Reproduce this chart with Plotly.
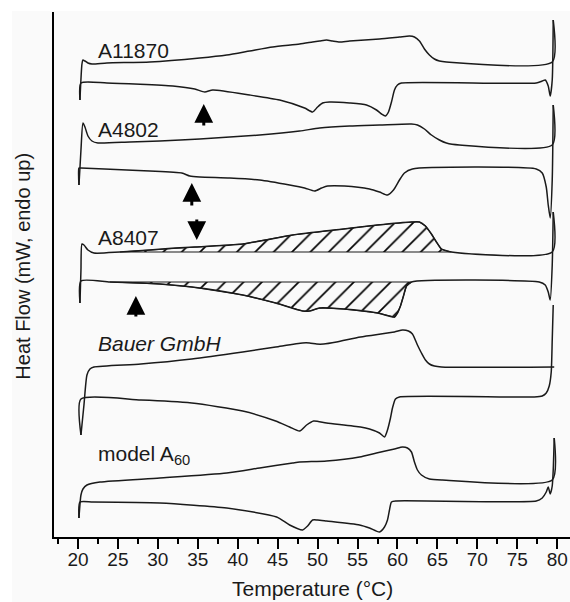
import plotly.graph_objects as go

# ---------------- data (Temperature in °C, heat flow in arbitrary offset units) ----------------
A11870_HEAT_T = [20.25, 20.5, 20.625, 20.875, 21.25, 21.75, 23.625, 29.0, 35.25, 38.625, 41.5, 44.375, 47.75, 49.375,
                 50.25, 51.125, 51.875, 52.75, 54.0, 57.75, 60.25, 61.5, 62.125, 62.75, 63.375, 64.0, 64.625, 65.25,
                 66.125, 79.375, 79.5]
A11870_HEAT_Q = [43.7, 47.3, 47.7, 47.6, 47.4, 47.3, 47.4, 47.5, 47.9, 48.2, 48.6, 49.0, 49.3, 49.5,
                 49.6, 49.7, 49.6, 49.5, 49.6, 49.8, 50.0, 50.1, 50.0, 49.6, 48.8, 48.2, 47.8, 47.6,
                 47.5, 47.5, 51.7]
A11870_COOL_T = [79.5, 79.375, 79.125, 78.875, 78.5, 78.125, 77.375, 60.5, 60.0, 59.625, 59.25, 58.875, 58.5, 58.0,
                 57.375, 56.125, 54.0, 51.5, 50.625, 50.0, 49.375, 48.375, 45.25, 41.5, 36.875, 35.875, 34.625,
                 31.875, 23.625, 20.375, 20.25]
A11870_COOL_Q = [51.7, 45.7, 44.1, 45.1, 45.7, 45.6, 45.4, 45.4, 45.2, 44.7, 43.5, 42.5, 42.1, 42.3,
                 42.7, 43.2, 43.4, 43.5, 43.4, 43.0, 42.5, 42.9, 43.7, 44.2, 44.7, 44.5, 44.8,
                 45.1, 45.4, 45.4, 43.7]

A4802_HEAT_T = [20.125, 20.375, 20.625, 20.875, 21.25, 21.75, 22.5, 26.5, 30.25, 35.25, 42.75, 47.75, 50.25, 54.0,
                57.75, 61.75, 62.5, 63.375, 64.25, 65.25, 66.125, 67.75, 79.375, 79.5]
A4802_HEAT_Q = [35.2, 38.7, 41.4, 41.0, 40.1, 39.6, 39.4, 39.5, 39.6, 39.8, 40.2, 40.6, 40.9, 41.1,
                41.2, 41.3, 41.2, 40.8, 40.2, 39.7, 39.4, 39.2, 39.2, 43.2]
A4802_COOL_T = [79.5, 79.375, 79.125, 78.875, 78.625, 78.125, 77.375, 61.875, 60.875, 60.25, 59.5, 58.75, 57.75,
                56.5, 53.375, 51.25, 50.5, 49.625, 48.375, 46.5, 42.75, 39.0, 35.25, 34.0, 33.0, 29.0, 26.125,
                20.375, 20.125, 20.125]
A4802_COOL_Q = [43.2, 35.7, 31.9, 33.2, 35.0, 36.4, 36.8, 36.8, 36.4, 35.7, 34.7, 34.2, 34.5,
                34.8, 35.1, 35.1, 34.9, 34.6, 34.9, 35.2, 35.7, 35.9, 36.0, 36.1, 36.4, 36.6, 36.7,
                36.9, 36.9, 35.2]

A8407_HEAT_T = [20.25, 20.375, 20.5, 20.75, 21.25, 22.0, 25.25, 29.0, 32.125, 34.625, 40.625, 46.875, 53.25,
                57.5, 61.75, 62.75, 63.5, 64.25, 64.875, 65.5, 66.75, 79.375, 79.5]
A8407_HEAT_Q = [23.4, 26.7, 29.3, 29.2, 28.7, 28.4, 28.5, 28.7, 28.9, 29.0, 29.3, 30.2, 30.8,
                31.2, 31.5, 31.5, 31.1, 30.3, 29.5, 28.8, 28.5, 28.5, 32.5]
A8407_COOL_T = [79.5, 79.375, 79.125, 78.875, 78.5, 77.75, 61.75, 61.125, 60.75, 60.375, 60.0, 59.625, 57.5,
                53.25, 50.25, 49.0, 48.125, 44.75, 40.625, 34.25, 30.25, 27.875, 24.0, 20.375, 20.25]
A8407_COOL_Q = [32.5, 27.2, 23.7, 24.5, 25.2, 25.5, 25.5, 25.1, 24.1, 23.1, 22.4, 22.0, 22.4,
                22.8, 22.9, 22.6, 22.6, 23.4, 24.2, 25.0, 25.3, 25.4, 25.5, 25.6, 23.4]
# integration limits and baselines for the hatched areas of A8407
A8407_HEAT_LIMITS = (25.25, 66.75)
A8407_HEAT_BASE = 28.5
A8407_COOL_LIMITS = (24.0, 61.75)
A8407_COOL_BASE = 25.5

BAUER_HEAT_T = [20.375, 20.75, 21.125, 21.5, 22.0, 27.875, 34.25, 40.625, 44.75, 48.125, 49.0, 49.875, 50.75,
                52.375, 55.375, 59.625, 60.625, 61.375, 61.875, 62.5, 63.0, 63.5, 64.0, 64.625, 65.5, 79.625]
BAUER_HEAT_Q = [10.2, 13.2, 16.2, 16.8, 17.0, 17.3, 17.8, 18.5, 19.0, 19.4, 19.4, 19.3, 19.3,
                19.5, 20.0, 20.5, 20.7, 20.6, 20.3, 19.2, 18.4, 17.7, 17.3, 17.1, 17.0, 17.0]
BAUER_COOL_T = [79.5, 79.375, 79.25, 79.0, 78.625, 78.125, 77.125, 60.25, 59.75, 59.375, 59.125, 58.75, 58.375,
                57.75, 56.5, 55.375, 51.125, 49.5, 48.625, 47.75, 46.5, 44.75, 40.625, 34.25, 27.875, 20.375, 20.375]
BAUER_COOL_Q = [23.2, 19.7, 16.5, 15.1, 14.4, 14.1, 14.0, 14.0, 13.8, 12.9, 11.9, 10.7, 10.0,
                10.4, 10.8, 11.0, 11.4, 11.6, 11.2, 10.6, 11.0, 11.6, 12.6, 13.4, 13.7, 13.8, 10.2]

MODEL_HEAT_T = [20.125, 20.375, 20.625, 21.125, 22.75, 30.25, 38.625, 42.75, 46.875, 47.75, 51.125, 55.25, 57.375,
                59.625, 60.625, 61.25, 61.75, 62.125, 62.5, 63.0, 64.0, 65.625, 79.375, 79.625]
MODEL_HEAT_Q = [1.9, 4.2, 4.8, 5.2, 5.5, 5.9, 6.4, 6.9, 7.4, 7.5, 7.6, 8.0, 8.4,
                8.8, 9.0, 8.9, 8.5, 7.5, 6.7, 6.2, 5.8, 5.7, 5.7, 9.9]
MODEL_COOL_T = [79.625, 79.5, 79.375, 79.125, 78.875, 78.625, 78.125, 77.375, 59.875, 59.25, 59.0, 58.75, 58.375,
                57.75, 56.5, 55.25, 51.125, 50.0, 49.375, 48.75, 48.125, 46.5, 44.875, 38.625, 30.25, 21.875,
                20.25, 20.125]
MODEL_COOL_Q = [9.9, 6.7, 5.1, 4.3, 5.0, 4.5, 3.9, 3.6, 3.6, 3.5, 2.7, 1.7, 1.0,
                0.5, 0.9, 1.2, 1.6, 1.7, 1.7, 1.1, 0.7, 1.2, 2.0, 2.9, 3.4, 3.5, 3.5, 1.9]

# sample labels: (text, T position, heat-flow position)
LABELS = [("A11870", 22.3, 48.65), ("A4802", 22.3, 40.75), ("A8407", 22.3, 29.95),
          ("<i>Bauer GmbH</i>", 22.3, 19.4), ("model A<sub>60</sub>", 22.3, 8.2)]
# arrows: (T, tail heat flow, tip heat flow)
ARROWS = [(35.75, 41.0, 43.3), (34.25, 33.0, 35.4), (34.875, 31.9, 29.7), (27.25, 21.9, 24.1)]

X_TICKS = [20, 25, 30, 35, 40, 45, 50, 55, 60, 65, 70, 75, 80]
X_RANGE = [17.0, 81.6]
Y_RANGE = [0.0, 52.5]

# ---------------- figure ----------------
INK = "#1a1a1a"
BG = "#fafafa"
FONT = "Liberation Sans, Arial, sans-serif"

fig = go.Figure()


def hatch_polygon(T, Q, lims, base):
    pts = [(t, q) for t, q in zip(T, Q) if lims[0] <= t <= lims[1]]
    pts.sort(key=lambda p: p[0])
    xs = [p[0] for p in pts] + [lims[1], lims[0]]
    ys = [p[1] for p in pts] + [base, base]
    return xs, ys


for T, Q, lims, base in [(A8407_HEAT_T, A8407_HEAT_Q, A8407_HEAT_LIMITS, A8407_HEAT_BASE),
                         (A8407_COOL_T, A8407_COOL_Q, A8407_COOL_LIMITS, A8407_COOL_BASE)]:
    xs, ys = hatch_polygon(T, Q, lims, base)
    fig.add_trace(go.Scatter(
        x=xs, y=ys, mode="lines", fill="toself",
        fillpattern=dict(shape="/", size=13, solidity=0.13, fgcolor="#000000", bgcolor="rgba(0,0,0,0)",
                         fillmode="replace"),
        fillcolor="rgba(0,0,0,0)",
        line=dict(color=INK, width=1.2), hoverinfo="skip", showlegend=False))

curves = [(A11870_HEAT_T, A11870_HEAT_Q), (A11870_COOL_T, A11870_COOL_Q),
          (A4802_HEAT_T, A4802_HEAT_Q), (A4802_COOL_T, A4802_COOL_Q),
          (A8407_HEAT_T, A8407_HEAT_Q), (A8407_COOL_T, A8407_COOL_Q),
          (BAUER_HEAT_T, BAUER_HEAT_Q), (BAUER_COOL_T, BAUER_COOL_Q),
          (MODEL_HEAT_T, MODEL_HEAT_Q), (MODEL_COOL_T, MODEL_COOL_Q)]
for T, Q in curves:
    fig.add_trace(go.Scatter(x=T, y=Q, mode="lines", line=dict(color=INK, width=1.5, shape="spline", smoothing=0.6),
                             hoverinfo="skip", showlegend=False))

annotations = []
for text, t, q in LABELS:
    annotations.append(dict(x=t, y=q, xref="x", yref="y", text=text, showarrow=False,
                            xanchor="left", yanchor="middle",
                            font=dict(family=FONT, size=21, color=INK)))
for t, q0, q1 in ARROWS:
    annotations.append(dict(x=t, y=q1, ax=t, ay=q0, xref="x", yref="y", axref="x", ayref="y",
                            text="", showarrow=True, arrowhead=2, arrowsize=1.25, arrowwidth=3,
                            arrowcolor="#000000", standoff=0, startstandoff=0))
annotations.append(dict(x=0.5, y=-0.099, xref="paper", yref="paper", text="Temperature (°C)",
                        showarrow=False, xanchor="center", yanchor="middle",
                        font=dict(family=FONT, size=21, color=INK)))
annotations.append(dict(x=-0.060, y=0.515, xref="paper", yref="paper", text="Heat Flow (mW, endo up)",
                        showarrow=False, xanchor="center", yanchor="middle", textangle=-90,
                        font=dict(family=FONT, size=20, color=INK)))

shapes = [
    dict(type="rect", xref="paper", yref="paper", x0=-0.11, x1=1.01, y0=1.002, y1=1.03,
         fillcolor="#ffffff", line=dict(width=0), layer="below"),
    dict(type="rect", xref="paper", yref="paper", x0=-0.11, x1=-0.0814, y0=-0.2, y1=1.03,
         fillcolor="#ffffff", line=dict(width=0), layer="below"),
]

fig.update_layout(
    width=570, height=602,
    margin=dict(l=54, r=0, t=12, b=65),
    paper_bgcolor=BG, plot_bgcolor=BG,
    showlegend=False,
    annotations=annotations,
    shapes=shapes,
    xaxis=dict(range=X_RANGE, tickvals=X_TICKS, ticks="outside", ticklen=10, tickwidth=1.5,
               tickcolor="#000", showline=True, linecolor="#000", linewidth=1.5,
               showgrid=False, zeroline=False, ticklabelstandoff=-6,
               tickfont=dict(family=FONT, size=19, color=INK),
               minor=dict(dtick=2.5, tick0=17.5, ticks="outside", ticklen=5, tickwidth=1.5, tickcolor="#000",
                          showgrid=False)),
    yaxis=dict(range=Y_RANGE, showline=True, linecolor="#000", linewidth=1.5, ticks="",
               showticklabels=False, showgrid=False, zeroline=False),
)

fig.write_html("out.html")
